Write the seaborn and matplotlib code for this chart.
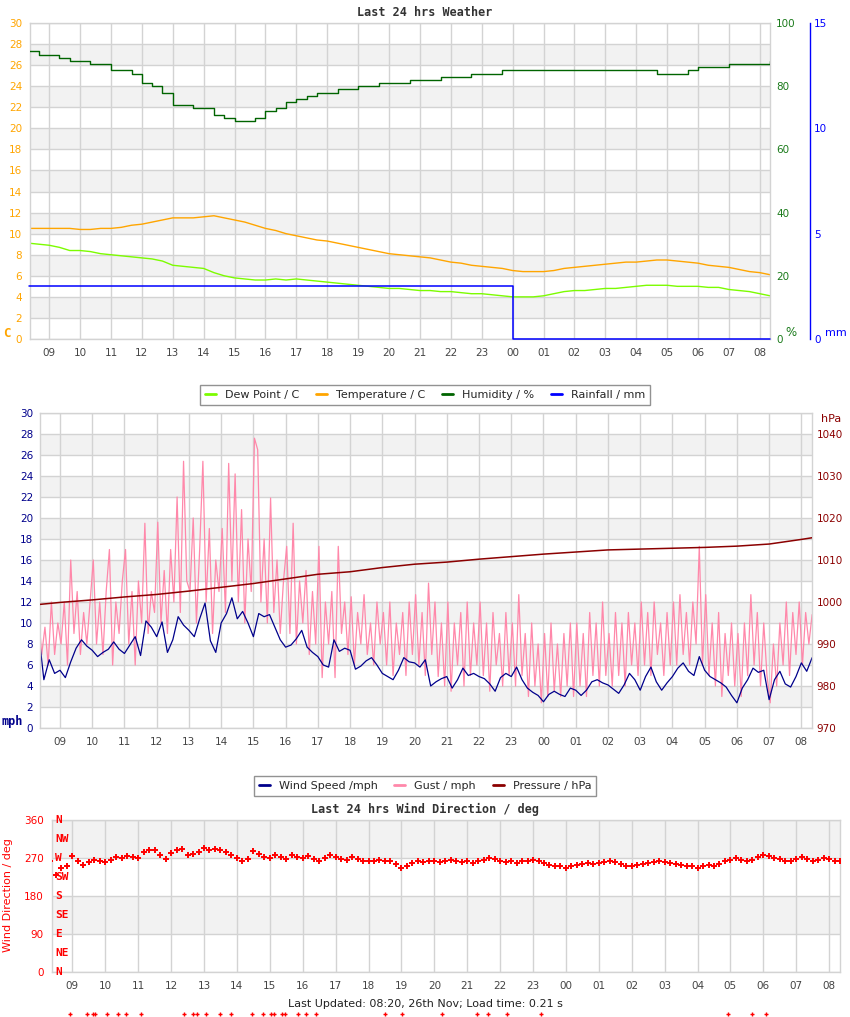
import numpy as np
import matplotlib
matplotlib.use("Agg")
import matplotlib.pyplot as plt
import seaborn as sns
from matplotlib.lines import Line2D

sns.set_style("white")
plt.rcParams['font.family'] = ['DejaVu Sans']

# ---------------- data ----------------
hour_ticks = list(range(9, 33))
hour_labels = [f"{h % 24:02d}" for h in hour_ticks]

# 20-minute samples, 08:20 -> 08:20 next day (hours, continuous clock)
t_weather = 8 + 20 / 60 + np.arange(73) / 3
temperature = [10.5, 10.5, 10.5, 10.5, 10.5, 10.4, 10.4, 10.5, 10.5, 10.6, 10.8, 10.9,
               11.1, 11.3, 11.5, 11.5, 11.5, 11.6, 11.7, 11.5, 11.3, 11.1, 10.8, 10.5,
               10.3, 10.0, 9.8, 9.6, 9.4, 9.3, 9.1, 8.9, 8.7, 8.5, 8.3, 8.1,
               8.0, 7.9, 7.8, 7.7, 7.5, 7.3, 7.2, 7.0, 6.9, 6.8, 6.7, 6.5,
               6.4, 6.4, 6.4, 6.5, 6.7, 6.8, 6.9, 7.0, 7.1, 7.2, 7.3, 7.3,
               7.4, 7.5, 7.5, 7.4, 7.3, 7.2, 7.0, 6.9, 6.8, 6.6, 6.4, 6.3, 6.1]
dew_point = [9.1, 9.0, 8.9, 8.7, 8.4, 8.4, 8.3, 8.1, 8.0, 7.9, 7.8, 7.7,
             7.6, 7.4, 7.0, 6.9, 6.8, 6.7, 6.3, 6.0, 5.8, 5.7, 5.6, 5.6,
             5.7, 5.6, 5.7, 5.6, 5.5, 5.4, 5.3, 5.2, 5.1, 5.0, 4.9, 4.8,
             4.8, 4.7, 4.6, 4.6, 4.5, 4.5, 4.4, 4.3, 4.3, 4.2, 4.1, 4.0,
             4.0, 4.0, 4.1, 4.3, 4.5, 4.6, 4.6, 4.7, 4.8, 4.8, 4.9, 5.0,
             5.1, 5.1, 5.1, 5.0, 5.0, 5.0, 4.9, 4.9, 4.7, 4.6, 4.5, 4.3, 4.1]
humidity = [91, 90, 90, 89, 88, 88, 87, 87, 85, 85, 84, 81,
            80, 78, 74, 74, 73, 73, 71, 70, 69, 69, 70, 72,
            73, 75, 76, 77, 78, 78, 79, 79, 80, 80, 81, 81,
            81, 82, 82, 82, 83, 83, 83, 84, 84, 84, 85, 85,
            85, 85, 85, 85, 85, 85, 85, 85, 85, 85, 85, 85,
            85, 84, 84, 84, 85, 86, 86, 86, 87, 87, 87, 87, 88]
rain_time = [8 + 20 / 60, 24.0, 24.0, 32 + 20 / 60]
rainfall = [2.5, 2.5, 0.0, 0.0]

# pressure (hPa)
t_press = [8 + 20 / 60] + list(range(9, 33)) + [32 + 20 / 60]
pressure = [999.4, 999.9, 1000.5, 1001.2, 1001.8, 1002.6, 1003.5, 1004.4, 1005.5,
            1006.6, 1007.2, 1008.2, 1009.0, 1009.5, 1010.2, 1010.8, 1011.4, 1011.9,
            1012.4, 1012.6, 1012.8, 1013.0, 1013.3, 1013.8, 1014.9, 1015.3]

# wind speed, 10-minute samples (mph)
t_wind = 8 + 20 / 60 + np.arange(145) / 6
wind_speed = [9.2, 4.6, 6.5, 5.2,
              5.5, 4.8, 6.3, 7.6, 8.4, 7.8,
              7.4, 6.8, 7.2, 7.5, 8.2, 7.5,
              7.1, 7.9, 8.7, 6.9, 10.2, 9.6,
              8.7, 10.1, 7.2, 8.4, 10.6, 9.8,
              9.3, 8.7, 10.4, 11.9, 8.3, 7.2,
              10.0, 10.9, 12.4, 10.4, 11.1, 10.0,
              8.7, 10.9, 10.6, 10.8, 9.6, 8.4,
              7.7, 7.9, 8.5, 9.3, 7.7, 7.2,
              6.8, 6.0, 5.8, 8.4, 7.3, 7.6,
              7.4, 5.6, 5.9, 6.4, 6.7, 6.0,
              5.2, 4.9, 4.6, 5.5, 6.7, 6.3,
              6.2, 5.8, 6.5, 4.0, 4.4, 4.7,
              4.9, 3.8, 4.6, 5.7, 5.0, 5.2,
              4.9, 4.7, 4.2, 3.5, 4.8, 5.2,
              4.9, 5.8, 4.6, 3.8, 3.4, 3.1,
              2.5, 3.2, 3.5, 3.2, 3.0, 3.8,
              3.6, 3.1, 3.6, 4.4, 4.6, 4.3,
              4.1, 3.7, 3.3, 4.1, 5.2, 4.6,
              3.6, 4.9, 5.8, 4.4, 3.6, 4.3,
              4.9, 5.7, 6.2, 5.4, 5.0, 6.8,
              5.5, 4.9, 4.6, 4.3, 3.9, 3.1,
              2.4, 3.8, 4.6, 5.7, 5.3, 5.5,
              2.7, 4.6, 5.4, 4.2, 3.9, 4.9,
              6.2, 5.4, 6.7]

# gusts, 6-minute samples (mph)
t_gust = 8 + 20 / 60 + np.arange(241) / 10
gust = [11, 7, 9.6, 6, 12, 7, 10,
        8, 12, 6, 16, 9, 13, 7, 11, 8, 12,
        16, 8, 12, 7, 13, 17, 6, 12, 9, 14,
        17, 8, 13, 6, 14, 10, 19.5, 9, 13, 11,
        19.6, 10, 15, 9, 17, 12, 22, 11, 25.4, 14,
        13, 20, 10, 17, 25.4, 12, 19, 9, 16, 13,
        19, 11, 25.2, 14, 24.2, 12, 20.8, 10, 18, 13,
        27.6, 26.5, 12, 18, 10, 21.9, 11, 16, 9, 14,
        17.3, 9, 19.5, 8, 14, 10, 15, 7, 13, 8,
        17.3, 4.8, 12, 8, 13, 4.8, 17.3, 9, 12, 7,
        12.5, 6, 11, 8, 12.7, 7, 10, 6, 12, 8,
        11, 6, 12, 5, 10, 7, 11, 5, 12, 7,
        12.7, 6, 11, 5, 13.8, 7, 12, 4.9, 10, 4,
        12, 3.5, 10, 6, 11, 4, 12, 5, 10, 6,
        12, 5, 10, 3.5, 11, 6, 9, 4, 11, 5,
        10, 4, 12.7, 5, 9, 3, 10, 4, 8, 2.4,
        9, 3, 10, 3.5, 8, 3, 9, 4, 10, 3,
        10, 4, 9, 3, 11, 5, 10, 4, 12, 5,
        9, 4, 11, 5, 10, 4, 11, 6, 10, 5,
        12, 6, 11, 5, 12, 7, 10, 5, 11, 6,
        12, 6, 12.7, 7, 11, 6, 12, 8, 17.3, 6,
        12.7, 5, 10, 4, 11, 3, 9, 5, 10, 4,
        9, 3, 10, 5, 12.7, 6, 11, 4, 10, 5,
        2.4, 8, 4, 10, 6, 12, 5, 11, 7, 12,
        6, 11, 8, 10.8]

# wind direction, 10-minute samples (deg)
t_dir = t_wind
wind_dir = [262, 230, 246, 252,
            274, 262, 254, 260, 266, 264,
            260, 266, 272, 270, 274, 272,
            270, 284, 290, 288, 276, 268,
            282, 288, 292, 278, 280, 285,
            293, 290, 292, 290, 284, 276,
            270, 264, 268, 286, 280, 272,
            270, 276, 272, 268, 276, 272,
            270, 274, 268, 264, 270, 276,
            272, 268, 266, 272, 268, 264,
            262, 264, 266, 262, 264, 256,
            246, 250, 258, 262, 260, 262,
            264, 260, 262, 266, 262, 260,
            262, 258, 262, 266, 270, 268,
            264, 260, 262, 258, 262, 264,
            266, 262, 258, 254, 252, 250,
            246, 250, 254, 256, 258, 256,
            258, 260, 262, 260, 256, 252,
            250, 254, 256, 258, 260, 262,
            260, 258, 256, 254, 252, 250,
            246, 250, 254, 252, 256, 262,
            266, 270, 266, 262, 266, 272,
            278, 274, 270, 268, 264, 262,
            268, 272, 268, 264, 266, 270,
            268, 262, 264]

# calm readings (no direction) shown below the axis
calm_times = [8.94, 9.44, 9.62, 9.69, 10.05, 10.40, 10.64, 11.10, 12.40, 12.68, 12.80,
              13.06, 13.49, 13.82, 14.46, 14.79, 15.04, 15.13, 15.38, 15.45, 15.86,
              16.09, 16.40, 18.51, 19.03, 20.22, 21.29, 21.63, 22.21, 23.25,
              28.93, 29.66, 30.09]
calm_dir = [-100] * len(calm_times)

compass_deg = [0, 45, 90, 135, 180, 225, 270, 315, 360]
compass_lbl = ['N', 'NE', 'E', 'SE', 'S', 'SW', 'W', 'NW', 'N']

# ---------------- style ----------------
W, H = 850, 1017
XMIN, XMAX = 8.38, 32.33
GRID = '#d3d3d3'
BAND = '#f2f2f2'
TICKFS = 7.5
ORANGE = '#FFA500'
DEW = '#7CFC00'
HUM = '#006400'
HUMTXT = '#1a7a1a'
RAIN = '#0000FF'
NAVY = '#00008B'
PINK = '#FF88AA'
DRED = '#8B0000'
MONO = 'DejaVu Sans Mono'


def fx(px):
    return px / W


def fy(py):
    return 1 - py / H


def base_axes(rect, ymin, ymax, step, band_start, band_step):
    ax = fig.add_axes(rect)
    ax.set_xlim(XMIN, XMAX)
    ax.set_ylim(ymin, ymax)
    for y0 in np.arange(band_start, ymax, band_step * 2):
        ax.axhspan(y0, y0 + band_step, color=BAND, lw=0, zorder=0)
    ax.set_xticks(hour_ticks)
    ax.set_xticklabels(hour_labels)
    ax.set_yticks(np.arange(ymin, ymax + 0.001, step))
    ax.set_axisbelow(True)
    ax.grid(True, color=GRID, lw=1.0, zorder=0.5)
    for s in ax.spines.values():
        s.set_color(GRID)
        s.set_linewidth(1.0)
    ax.tick_params(axis='x', length=0, pad=6.5, labelsize=TICKFS, colors='#444444')
    ax.tick_params(axis='y', length=0, labelsize=TICKFS)
    return ax


def twin(ax):
    t = ax.twinx()
    t.grid(False)
    for s in t.spines.values():
        s.set_visible(False)
    t.set_xlim(XMIN, XMAX)
    return t


fig = plt.figure(figsize=(8.5, 10.17), dpi=100)

# ================= Panel 1 : weather =================
ax1 = base_axes([fx(30), fy(339), fx(770) - fx(30), fy(23) - fy(339)], 0, 30, 2, 2, 2)
ax1.tick_params(axis='y', colors=ORANGE, pad=5.5)

sns.lineplot(x=t_weather, y=dew_point, ax=ax1, color=DEW, lw=1.0,
             estimator=None, legend=False)
sns.lineplot(x=t_weather, y=temperature, ax=ax1, color=ORANGE, lw=1.0,
             estimator=None, legend=False)
ax1.set_xlabel('')
ax1.set_ylabel('')

ax1h = twin(ax1)
ax1h.set_ylim(0, 100)
ax1h.set_yticks(range(0, 101, 20))
ax1h.tick_params(axis='y', length=0, labelsize=TICKFS, colors=HUMTXT, pad=4.5)
sns.lineplot(x=t_weather, y=humidity, ax=ax1h, color=HUM, lw=1.0,
             drawstyle='steps-post', estimator=None, legend=False)
ax1h.set_ylabel('')

ax1r = twin(ax1)
ax1r.set_ylim(0, 15)
ax1r.set_yticks([0, 5, 10, 15])
ax1r.spines['right'].set_visible(True)
ax1r.spines['right'].set_position(('axes', (810 - 30) / (770 - 30)))
ax1r.spines['right'].set_color(RAIN)
ax1r.spines['right'].set_linewidth(1.0)
ax1r.tick_params(axis='y', length=0, labelsize=TICKFS, colors=RAIN, pad=3)
sns.lineplot(x=rain_time, y=rainfall, ax=ax1r, color=RAIN, lw=1.1,
             estimator=None, sort=False, legend=False, clip_on=False, zorder=5)
ax1r.set_ylabel('')

fig.text(0.5, fy(13), 'Last 24 hrs Weather', ha='center', va='center',
         family=MONO, weight='bold', fontsize=8.5, color='#333333')
fig.text(fx(3), fy(333), 'C', ha='left', va='center', color=ORANGE,
         weight='bold', family=MONO, fontsize=9)
fig.text(fx(785), fy(332), '%', ha='left', va='center', color=HUMTXT, fontsize=8.5)
fig.text(fx(847), fy(333), 'mm', ha='right', va='center', color=RAIN, fontsize=8)

h1 = [Line2D([], [], color=DEW, lw=2), Line2D([], [], color=ORANGE, lw=2),
      Line2D([], [], color=HUM, lw=2), Line2D([], [], color=RAIN, lw=2)]
leg1 = fig.legend(h1, ['Dew Point / C', 'Temperature / C', 'Humidity / %', 'Rainfall / mm'],
                  loc='center', bbox_to_anchor=(0.5, fy(395)), ncol=4, fontsize=8,
                  frameon=True, fancybox=False, handlelength=1.0, handletextpad=0.8,
                  columnspacing=1.5, borderpad=0.45, edgecolor='#777777')
leg1.get_frame().set_linewidth(1.0)

# ================= Panel 2 : wind / pressure =================
ax2 = base_axes([fx(40), fy(728), fx(812) - fx(40), fy(413) - fy(728)], 0, 30, 2, 2, 2)
ax2.tick_params(axis='y', colors=NAVY, pad=5)
sns.lineplot(x=t_gust, y=gust, ax=ax2, color=PINK, lw=0.9,
             estimator=None, legend=False)
sns.lineplot(x=t_wind, y=wind_speed, ax=ax2, color=NAVY, lw=0.9,
             estimator=None, legend=False)
ax2.set_xlabel('')
ax2.set_ylabel('')

ax2p = twin(ax2)
ax2p.set_ylim(970, 1045)
ax2p.set_yticks(range(970, 1041, 10))
ax2p.tick_params(axis='y', length=0, labelsize=TICKFS, colors=DRED, pad=3.5)
sns.lineplot(x=t_press, y=pressure, ax=ax2p, color=DRED, lw=1.1,
             estimator=None, legend=False)
ax2p.set_ylabel('')

fig.text(fx(1), fy(722), 'mph', ha='left', va='center', color=NAVY,
         weight='bold', family=MONO, fontsize=8.5)
fig.text(fx(821), fy(419), 'hPa', ha='left', va='center', color=DRED, fontsize=8)

h2 = [Line2D([], [], color=NAVY, lw=2), Line2D([], [], color=PINK, lw=2),
      Line2D([], [], color=DRED, lw=2)]
leg2 = fig.legend(h2, ['Wind Speed /mph', 'Gust / mph', 'Pressure / hPa'],
                  loc='center', bbox_to_anchor=(0.5, fy(786)), ncol=3, fontsize=8,
                  frameon=True, fancybox=False, handlelength=1.0, handletextpad=0.8,
                  columnspacing=1.5, borderpad=0.45, edgecolor='#777777')
leg2.get_frame().set_linewidth(1.0)

# ================= Panel 3 : wind direction =================
ax3 = base_axes([fx(52), fy(972), fx(840) - fx(52), fy(820) - fy(972)], 0, 360, 90, 90, 90)
ax3.tick_params(axis='y', colors='red', pad=6)
sns.scatterplot(x=t_dir, y=wind_dir, ax=ax3, marker='+', s=22, color='red',
                linewidth=1.4, legend=False, zorder=3)
sns.scatterplot(x=calm_times, y=calm_dir, ax=ax3, marker='+', s=10, color='red',
                linewidth=1.0, legend=False, clip_on=False, zorder=3)
ax3.set_xlabel('')
ax3.set_ylabel('')
for d, lbl in zip(compass_deg, compass_lbl):
    ax3.text(0.004, d, lbl, transform=ax3.get_yaxis_transform(), ha='left', va='center',
             color='red', weight='bold', family=MONO, fontsize=8, zorder=4)

fig.text(0.5, fy(809), 'Last 24 hrs Wind Direction / deg', ha='center', va='center',
         family=MONO, weight='bold', fontsize=8.5, color='#333333')
fig.text(fx(8), fy(895), 'Wind Direction / deg', rotation=90, ha='center', va='center',
         color='red', fontsize=8)
fig.text(0.5, fy(1004), 'Last Updated: 08:20, 26th Nov; Load time: 0.21 s',
         ha='center', va='center', fontsize=8, color='#222222')

fig.savefig('out.png', dpi=100)
